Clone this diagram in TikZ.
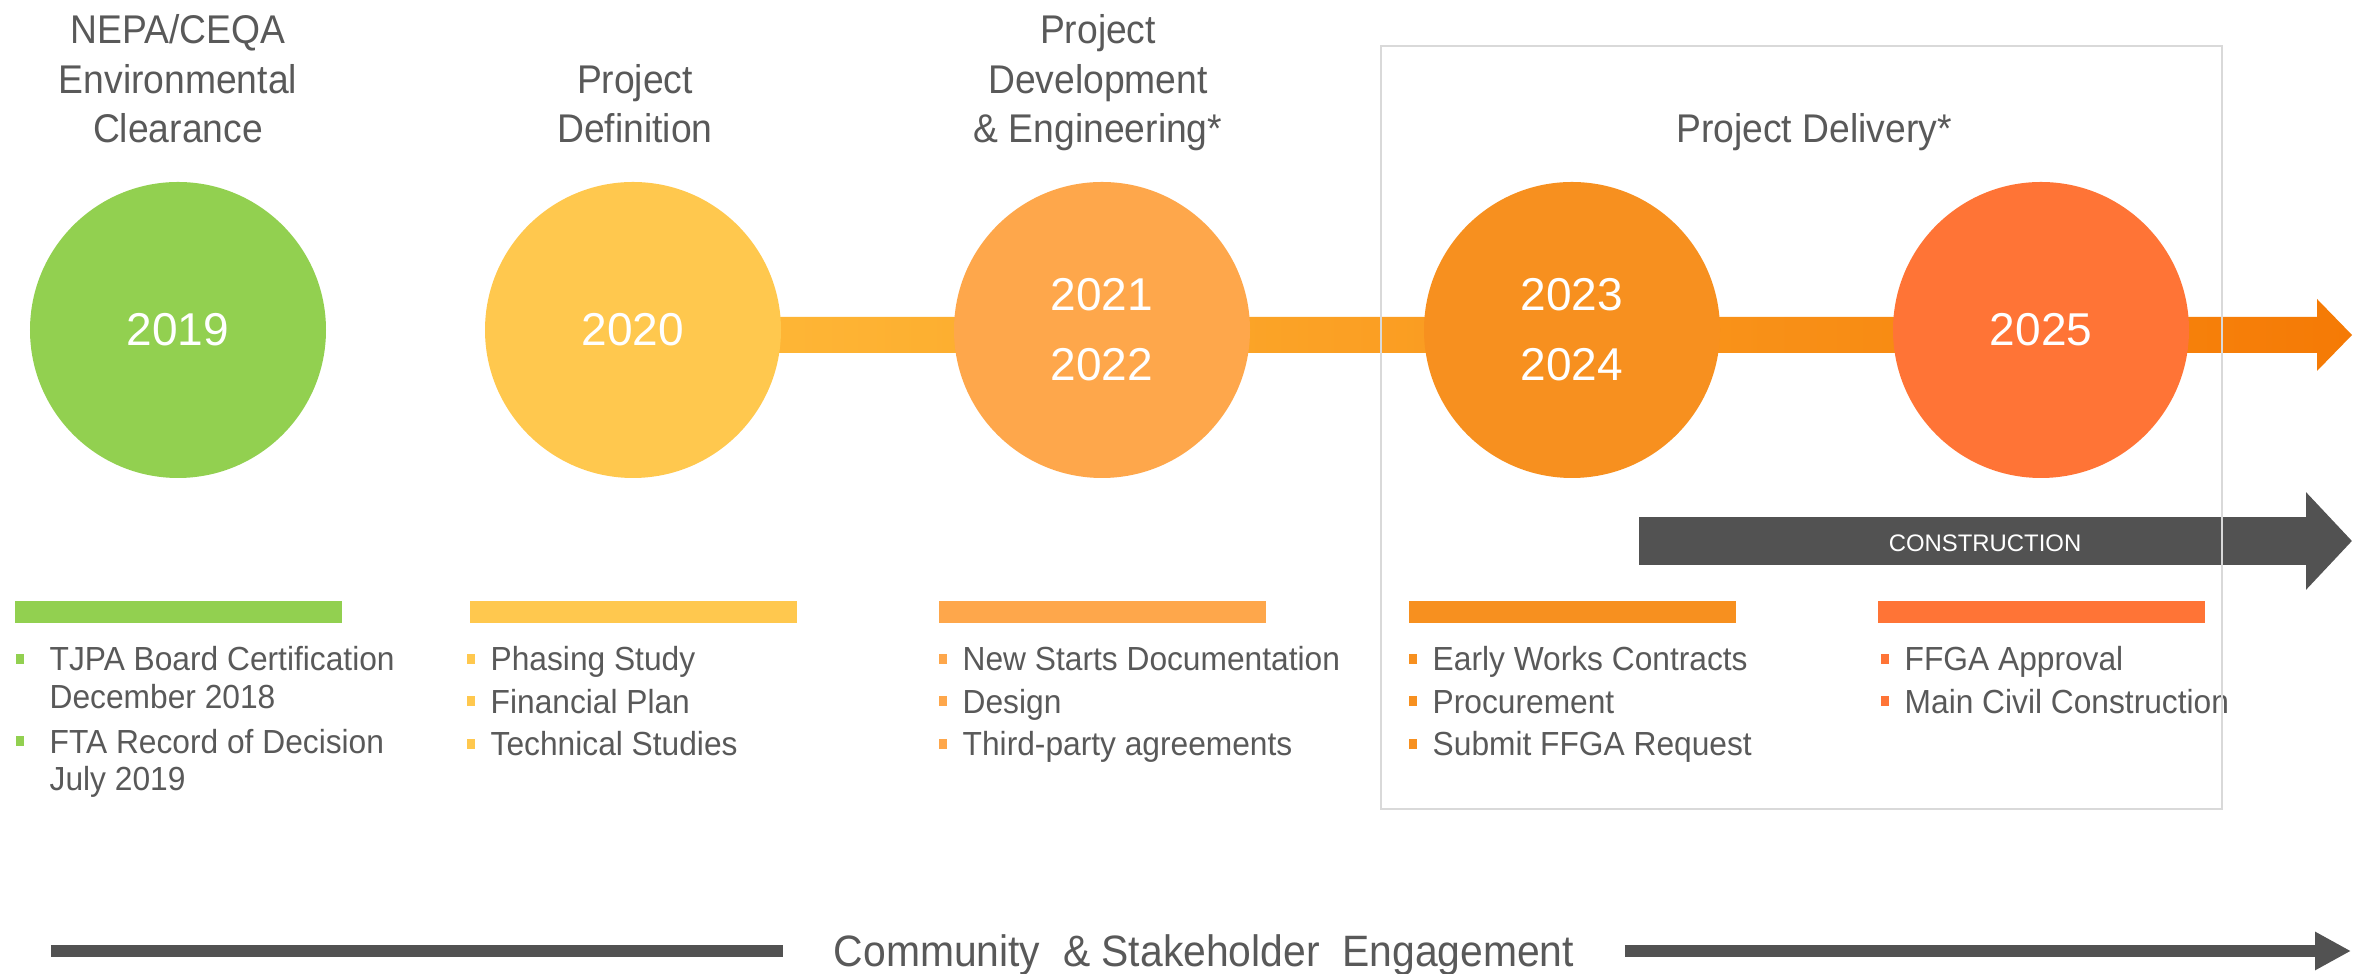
\documentclass[tikz,border=0pt]{standalone}
\usepackage{fontspec}
\setmainfont{Liberation Sans}
\newfontfamily\narrowfont{Liberation Sans}[FakeStretch=0.93]
\newfontfamily\itemfont{Liberation Sans}[FakeStretch=0.95]
\usetikzlibrary{arrows.meta,calc,positioning}

\definecolor{cgreen}{HTML}{92D050}
\definecolor{cyellow}{HTML}{FFC84E}
\definecolor{corange}{HTML}{FEA74B}
\definecolor{cdorange}{HTML}{F7901F}
\definecolor{cred}{HTML}{FF7436}
\definecolor{barA}{HTML}{FFBB3A}
\definecolor{barB}{HTML}{FDA443}
\definecolor{barC}{HTML}{F57A05}
\definecolor{txtgray}{HTML}{595959}
\definecolor{arrgray}{HTML}{525252}
\definecolor{boxgray}{HTML}{D9D9D9}

\begin{document}
\begin{tikzpicture}[x=1cm, y=-1cm,
    year/.style={circle, minimum size=2.96cm, inner sep=0pt, text=white, align=center,
                 font=\fontsize{13.1}{19.9}\selectfont},
    head/.style={anchor=base, align=center, inner sep=0pt, text=txtgray,
                 font=\narrowfont\fontsize{11.4}{14.2}\selectfont},
    item/.style={anchor=base west, align=left, inner sep=0pt, text=txtgray,
                 font=\itemfont\fontsize{9.5}{10.7}\selectfont},
    ]
    \path[use as bounding box, fill=white] (0,0) rectangle (23.66,9.74);
    %
    \foreach \n/\x in {1/1.78, 2/6.33, 3/11.02, 4/15.72, 5/20.41}
        \coordinate (p\n) at (\x,3.30);
    %
    % timeline bar
    \coordinate (tip) at (23.52,3.35);
    \shade[left color=barA, middle color=barB, right color=barC]
        ($(p2)+(0,-0.13)$) -- ($(tip)+(-0.35,-0.18)$) -- ($(tip)+(-0.35,-0.36)$) -- (tip)
        -- ($(tip)+(-0.35,0.36)$) -- ($(tip)+(-0.35,0.18)$) -- ($(p2)+(0,0.23)$) -- cycle;
    %
    \node[year, fill=cgreen]   (c1) at (p1) {2019};
    \node[year, fill=cyellow]  (c2) at (p2) {2020};
    \node[year, fill=corange]  (c3) at (p3) {2021\\2022};
    \node[year, fill=cdorange] (c4) at (p4) {2023\\2024};
    \node[year, fill=cred]     (c5) at (p5) {2025};
    %
    \node[head] (h1) at (1.78,1.43)  {NEPA/CEQA\\Environmental\\Clearance};
    \node[head] (h2) at (6.35,1.43)  {Project\\Definition};
    \node[head] (h3) at (10.98,1.43) {Project\\Development\\\& Engineering*};
    \node[head] (h4) at (18.14,1.43) {Project Delivery*};
    %
    % coloured bars
    \foreach \n/\c in {1/cgreen, 2/cyellow, 3/corange, 4/cdorange, 5/cred}
        \fill[\c] ($(p\n)+(-1.635,2.71)$) rectangle ++(3.27,0.22);
    %
    \node[item] (a1) at (0.49,7.085) {TJPA Board Certification\\December 2018};
    \node[item] (a2) at (0.49,7.91)  {FTA Record of Decision\\July 2019};
    \foreach \i in {1,2}
        \fill[cgreen] ($(a\i.base west)+(-0.33,-0.546)$) rectangle ++(0.08,0.10);
    \foreach \n/\x/\c/\list in {
            2/4.90/cyellow/{Phasing Study, Financial Plan, Technical Studies},
            3/9.62/corange/{New Starts Documentation, Design, Third-party agreements},
            4/14.32/cdorange/{Early Works Contracts, Procurement, Submit FFGA Request},
            5/19.04/cred/{FFGA Approval, Main Civil Construction}}
        \foreach \t [count=\i] in \list {
            \node[item] (t\n-\i) at (\x,{6.71+0.425*(\i-1)}) {\t};
            \fill[\c] ($(t\n-\i.base west)+(-0.23,-0.17)$) rectangle ++(0.08,0.10);
        };
    %
    % construction arrow
    \coordinate (k0) at (16.39,5.41);
    \coordinate (k1) at (23.52,5.41);
    \draw[arrgray, line width=.48cm, -{Triangle[length=.46cm,width=.95cm]}] (k0) -- (k1);
    \node[text=white, font=\fontsize{6.8}{8}\selectfont] (constr) at (19.85,5.435) {CONSTRUCTION};
    %
    \draw[boxgray, line width=.025cm] (13.81,0.46) rectangle (22.22,8.09);
    %
    \node[anchor=base, inner sep=0pt, text=txtgray, font=\narrowfont\fontsize{12.5}{15}\selectfont]
        (eng) at (12.04,9.67) {Community \ \& Stakeholder \ Engagement};
    \coordinate (e0) at (0.51,9.51);
    \coordinate (e1) at (23.51,9.51);
    \draw[arrgray, line width=.12cm, shorten >=5mm] (e0) -- (e0 -| eng.west);
    \draw[arrgray, line width=.12cm, shorten <=5mm, -{Triangle[length=.36cm,width=.36cm]}]
        (e1 -| eng.east) -- (e1);
\end{tikzpicture}
\end{document}
